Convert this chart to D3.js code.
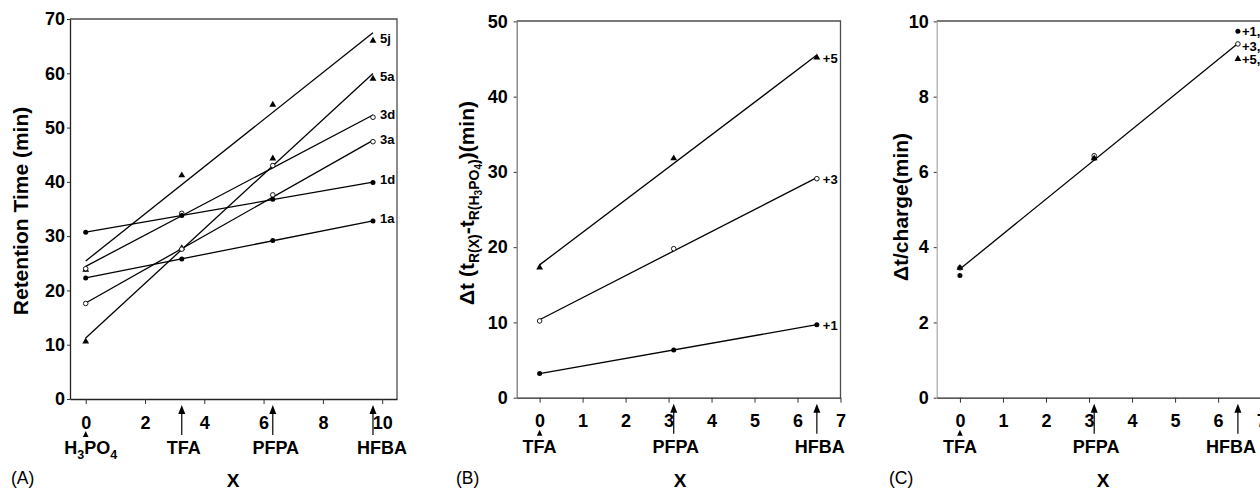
<!DOCTYPE html>
<html><head><meta charset="utf-8">
<script src="https://cdn.jsdelivr.net/npm/d3@7/dist/d3.min.js"></script>
<style>
body{margin:0;background:#fff;}
svg{display:block;font-family:"Liberation Sans",Arial,Helvetica,sans-serif;}
</style></head><body>
<svg id="fig" width="1260" height="491"></svg>
<script>
// ---- Panel A: retention time vs. ion-pairing reagent hydrophobicity ----
const acidXA = [0, 3.24, 6.31, 9.69];
const acidsA = ["H3PO4", "TFA", "PFPA", "HFBA"];
const xTicksA = [0, 2, 4, 6, 8, 10];
const yTicksA = [0, 10, 20, 30, 40, 50, 60, 70];
const peptidesA = ["5j", "5a", "3d", "3a", "1d", "1a"];
const symbolsA = ["tri", "tri", "open", "open", "filled", "filled"];
const rt5j = [23.8, 41.2, 54.2, 66.0];
const rt5a = [10.6, 27.8, 44.3, 59.0];
const rt3d = [24.0, 34.2, 43.0, 51.9];
const rt3a = [17.6, 27.6, 37.6, 47.4];
const rt1d = [30.7, 33.8, 36.8, 39.9];
const rt1a = [22.3, 25.8, 29.2, 32.8];

// ---- Panel B: retention shift relative to H3PO4, by net charge ----
const acidXB = [0, 3.12, 6.45];
const acidsB = ["TFA", "PFPA", "HFBA"];
const xTicksB = [0, 1, 2, 3, 4, 5, 6, 7];
const yTicksB = [0, 10, 20, 30, 40, 50];
const chargesB = ["+5", "+3", "+1"];
const symbolsB = ["tri", "open", "filled"];
const dtPlus5 = [17.3, 31.8, 45.2];
const dtPlus3 = [10.2, 19.8, 29.1];
const dtPlus1 = [3.2, 6.35, 9.7];

// ---- Panel C: retention shift per unit charge ----
const acidXC = [0, 3.12, 6.46];
const acidsC = ["TFA", "PFPA", "HFBA"];
const xTicksC = [0, 1, 2, 3, 4, 5, 6, 7];
const yTicksC = [0, 2, 4, 6, 8, 10];
const chargesC = ["+1,", "+3,", "+5,"];
const symbolsC = ["filled", "open", "tri"];
const perChargePlus1 = [3.25, 6.36, 9.74];
const perChargePlus3 = [3.45, 6.43, 9.40];
const perChargePlus5 = [3.45, 6.36, 9.00];

const svg = d3.select("#fig");
const INK = "#000";
const FONT = "Liberation Sans, Arial, sans-serif";

function fit(xs, ys) {
  const mx = d3.mean(xs), my = d3.mean(ys);
  const sxy = d3.sum(xs, (v, i) => (v - mx) * (ys[i] - my));
  const sxx = d3.sum(xs, v => (v - mx) * (v - mx));
  const b = sxy / sxx;
  return { slope: b, intercept: my - b * mx };
}

function marker(g, type, cx, cy) {
  if (type === "tri") {
    g.append("path")
      .attr("d", d3.symbol(d3.symbolTriangle, 20)())
      .attr("transform", `translate(${cx},${cy})`)
      .attr("fill", INK);
  } else if (type === "open") {
    g.append("circle").attr("cx", cx).attr("cy", cy).attr("r", 2.3)
      .attr("fill", "#fff").attr("stroke", INK).attr("stroke-width", 0.9);
  } else {
    g.append("circle").attr("cx", cx).attr("cy", cy).attr("r", 2.5).attr("fill", INK);
  }
}

function panel(opt) {
  const g = svg.append("g");
  const x = d3.scaleLinear().domain(opt.xDomain).range([opt.left, opt.right]);
  const y = d3.scaleLinear().domain(opt.yDomain).range([opt.bottom, opt.top]);

  // top and right frame
  g.append("path")
    .attr("d", `M${opt.left},${opt.top}H${opt.right}V${opt.bottom}`)
    .attr("fill", "none").attr("stroke", "#4d4d4d").attr("stroke-width", 1.3);

  // y axis
  const ya = g.append("g").attr("transform", `translate(${opt.left},0)`)
    .call(d3.axisLeft(y).tickValues(opt.yTicks).tickSize(3).tickSizeOuter(0)
      .tickPadding(opt.yPad).tickFormat(d3.format("d")));
  ya.select(".domain").attr("stroke", opt.yAxisColor).attr("stroke-width", 1.3);
  ya.selectAll(".tick line").attr("stroke", "#333");
  ya.selectAll("text").attr("font-size", 18).attr("font-weight", "bold")
    .attr("fill", INK).attr("font-family", FONT);

  // x axis
  const xa = g.append("g").attr("transform", `translate(0,${opt.bottom})`)
    .call(d3.axisBottom(x).tickValues(opt.xTicks).tickSize(5).tickSizeOuter(0)
      .tickPadding(12).tickFormat(d3.format("d")));
  xa.select(".domain").attr("stroke", "#222").attr("stroke-width", 1.3);
  xa.selectAll(".tick line").attr("stroke", "#333");
  xa.selectAll("text").attr("font-size", 18).attr("font-weight", "bold")
    .attr("fill", INK).attr("font-family", FONT);

  // acid markers under the axis
  opt.acidX.forEach((ax, i) => {
    const px = x(ax), base = opt.bottom;
    if (i === 0) {
      g.append("path")
        .attr("d", `M${px},${base + 32}L${px + 2.8},${base + 38}L${px - 2.8},${base + 38}Z`)
        .attr("fill", INK);
    } else {
      g.append("line").attr("x1", px).attr("x2", px)
        .attr("y1", base + 13).attr("y2", base + 36)
        .attr("stroke", INK).attr("stroke-width", 1.2);
      g.append("path")
        .attr("d", `M${px},${base + 6}L${px + 3.5},${base + 15}L${px - 3.5},${base + 15}Z`)
        .attr("fill", INK);
    }
    const t = g.append("text").attr("x", px + opt.acidDx[i])
      .attr("y", base + 55).attr("text-anchor", "middle")
      .attr("font-size", 18).attr("font-weight", "bold").attr("fill", INK);
    const name = opt.acids[i];
    if (name === "H3PO4") {
      t.append("tspan").text("H");
      t.append("tspan").attr("font-size", 12.5).attr("dy", 5).text("3");
      t.append("tspan").attr("dy", -5).text("PO");
      t.append("tspan").attr("font-size", 12.5).attr("dy", 5).text("4");
    } else {
      t.text(name);
    }
  });

  // axis title and panel letter
  g.append("text").attr("x", opt.xTitleX).attr("y", 487).attr("text-anchor", "middle")
    .attr("font-size", 19).attr("font-weight", "bold").attr("fill", INK).text("X");
  g.append("text").attr("x", opt.letterX).attr("y", 484)
    .attr("font-size", 17.5).attr("fill", INK).text(opt.letter);

  return { g, x, y };
}

function fitLine(p, xs, ys) {
  const f = fit(xs, ys);
  const x0 = d3.min(xs), x1 = d3.max(xs);
  p.g.append("line")
    .attr("x1", p.x(x0)).attr("y1", p.y(f.intercept + f.slope * x0))
    .attr("x2", p.x(x1)).attr("y2", p.y(f.intercept + f.slope * x1))
    .attr("stroke", INK).attr("stroke-width", 1.3);
}

function pointLabel(p, text, px, py, dy) {
  p.g.append("text").attr("x", px).attr("y", py + dy)
    .attr("font-size", 13).attr("font-weight", "bold").attr("fill", INK).text(text);
}

// ---------- Panel A ----------
const pA = panel({
  left: 70, right: 397, top: 19, bottom: 399,
  xDomain: [-0.53, 10.5], yDomain: [0, 70],
  xTicks: xTicksA, yTicks: yTicksA, yPad: 2, yAxisColor: "#222",
  acidX: acidXA, acids: acidsA, acidDx: [5, 2, 3, 9],
  xTitleX: 233, letterX: 11, letter: "(A)"
});
const seriesA = [rt5j, rt5a, rt3d, rt3a, rt1d, rt1a];
seriesA.forEach(s => fitLine(pA, acidXA, s));
seriesA.forEach((s, i) => s.forEach((v, j) => marker(pA.g, symbolsA[i], pA.x(acidXA[j]), pA.y(v))));
seriesA.forEach((s, i) => pointLabel(pA, peptidesA[i], pA.x(acidXA[3]) + 7, pA.y(s[3]), 2));

// y title A
svg.append("text").attr("transform", "translate(28,211) rotate(-90)")
  .attr("text-anchor", "middle").attr("font-size", 21).attr("font-weight", "bold")
  .attr("fill", INK).text("Retention Time (min)");

// ---------- Panel B ----------
const pB = panel({
  left: 516.7, right: 840.5, top: 21, bottom: 397.7,
  xDomain: [-0.533, 7], yDomain: [0, 50.05],
  xTicks: xTicksB, yTicks: yTicksB, yPad: 6, yAxisColor: "#7a7a7a",
  acidX: acidXB, acids: acidsB, acidDx: [0, 2, 3],
  xTitleX: 680, letterX: 456, letter: "(B)"
});
const seriesB = [dtPlus5, dtPlus3, dtPlus1];
seriesB.forEach(s => fitLine(pB, acidXB, s));
seriesB.forEach((s, i) => s.forEach((v, j) => marker(pB.g, symbolsB[i], pB.x(acidXB[j]), pB.y(v))));
seriesB.forEach((s, i) => pointLabel(pB, chargesB[i], pB.x(acidXB[2]) + 6, pB.y(s[2]), 5));

// y title B with subscripts
{
  const t = svg.append("text").attr("transform", "translate(474,203) rotate(-90)")
    .attr("text-anchor", "middle").attr("font-weight", "bold").attr("fill", INK)
    .attr("font-size", 21);
  t.append("tspan").text("\u0394t (t");
  t.append("tspan").attr("font-size", 14).attr("dy", 5).text("R(X)");
  t.append("tspan").attr("dy", -5).text("-t");
  t.append("tspan").attr("font-size", 14).attr("dy", 5).text("R(H");
  t.append("tspan").attr("font-size", 10).attr("dy", 3).text("3");
  t.append("tspan").attr("font-size", 14).attr("dy", -3).text("PO");
  t.append("tspan").attr("font-size", 10).attr("dy", 3).text("4");
  t.append("tspan").attr("font-size", 14).attr("dy", -3).text(")");
  t.append("tspan").attr("dy", -5).text(")(min)");
}

// ---------- Panel C ----------
const pC = panel({
  left: 936.7, right: 1262, top: 21, bottom: 397.7,
  xDomain: [-0.54, 7.02], yDomain: [0, 10.01],
  xTicks: xTicksC, yTicks: yTicksC, yPad: 5, yAxisColor: "#b0b0b0",
  acidX: acidXC, acids: acidsC, acidDx: [0, 2, -7],
  xTitleX: 1103, letterX: 889, letter: "(C)"
});
const seriesC = [perChargePlus1, perChargePlus3, perChargePlus5];
// one line through all charge states pooled
fitLine(pC, seriesC.flatMap(() => acidXC), seriesC.flat());
seriesC.forEach((s, i) => s.forEach((v, j) => marker(pC.g, symbolsC[i], pC.x(acidXC[j]), pC.y(v))));
seriesC.forEach((s, i) => pointLabel(pC, chargesC[i], pC.x(acidXC[2]) + 4, pC.y(s[2]), [5, 7, 5][i]));

svg.append("text").attr("transform", "translate(908,207) rotate(-90)")
  .attr("text-anchor", "middle").attr("font-size", 21).attr("font-weight", "bold")
  .attr("fill", INK).text("\u0394t/charge(min)");
</script>
</body></html>
